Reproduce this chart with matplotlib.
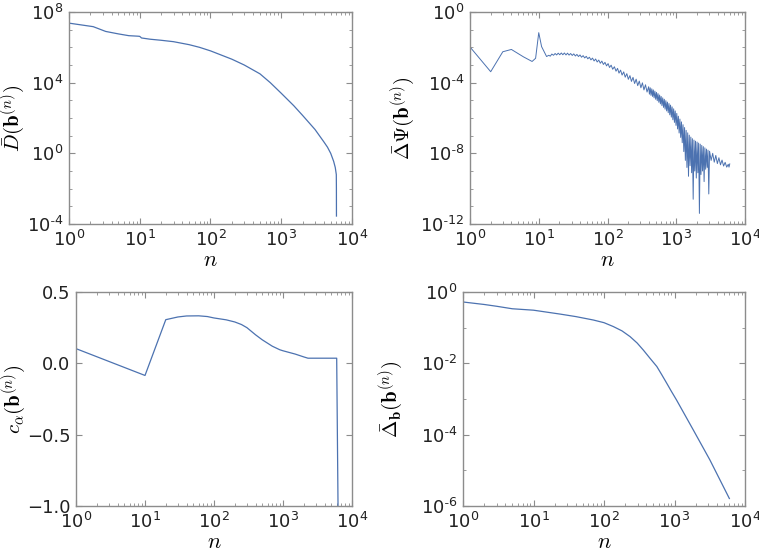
import numpy as np
import matplotlib
matplotlib.use("Agg")
import matplotlib.pyplot as plt
from matplotlib.ticker import LogLocator, FixedLocator, NullFormatter, FuncFormatter

plt.rcParams['font.family'] = ['DejaVu Sans']
plt.rcParams['mathtext.fontset'] = 'cm'

LINE = '#4c72b0'
SPINE = '#8c8c8c'

# ---------------- data ----------------
# top-left: D-bar(b^(n)), log10 values
d_n = [1, 2.2, 3.3, 5, 7, 9.5, 10, 10.6, 14, 20, 30, 50, 70, 100, 200, 300, 500, 700,
       1000, 1500, 2000, 3000, 4000, 4500, 5000, 5500, 5800, 6000, 6020, 6030]
d_log = [7.37, 7.17, 6.9, 6.76, 6.66, 6.63, 6.62, 6.53, 6.46, 6.40, 6.32, 6.15, 6.0, 5.8,
         5.33, 5.0, 4.5, 4.0, 3.4, 2.7, 2.15, 1.35, 0.65, 0.35, 0.0, -0.45, -0.8, -1.2,
         -2.0, -3.55]

# top-right: Delta-bar Psi(b^(n)), (n, log10 value) pairs
psi_pts = [
    (1, -1.98), (2, -3.38), (3, -2.25), (4, -2.12), (6, -2.54), (8, -2.8), (9, -2.62),
    (10, -1.17), (11, -1.96), (13, -2.52),
    (14, -2.45), (14.7, -2.50), (15.5, -2.38), (16.4, -2.45), (17.3, -2.35), (18.2, -2.43),
    (19.2, -2.33), (20.2, -2.42), (21.3, -2.32), (22.4, -2.42), (23.6, -2.32), (24.9, -2.43),
    (26.2, -2.33), (27.6, -2.44), (29.1, -2.35), (30.7, -2.46), (32.3, -2.37), (34.1, -2.49),
    (35.9, -2.40), (37.8, -2.52), (39.8, -2.43), (41.9, -2.56), (44.2, -2.47), (46.6, -2.60),
    (49.1, -2.51), (51.7, -2.65), (54.5, -2.56), (57.4, -2.71), (60.5, -2.61), (63.8, -2.77),
    (67.2, -2.66), (70.8, -2.83), (74.6, -2.72), (78.6, -2.90), (82.8, -2.78), (87.2, -2.97),
    (91.9, -2.85), (96.8, -3.05), (102, -2.92), (107, -3.14), (113, -3.01), (119, -3.24),
    (126, -3.10), (133, -3.35), (140, -3.19), (147, -3.46), (155, -3.29), (163, -3.57),
    (172, -3.39), (181, -3.69), (191, -3.49), (201, -3.81), (212, -3.60), (223, -3.93),
    (235, -3.70), (248, -4.05), (261, -3.80), (275, -4.17), (290, -3.91), (306, -4.29),
    (322, -4.01), (339, -4.41), (357, -4.12), (376, -4.53), (397, -4.23), (407, -4.65),
    (418, -4.29), (429, -4.72), (441, -4.35), (452, -4.78), (464, -4.41), (476, -4.86),
    (489, -4.48), (502, -4.94), (516, -4.55), (529, -5.02), (543, -4.62), (558, -5.11),
    (573, -4.70), (588, -5.20), (603, -4.78), (619, -5.30), (636, -4.86), (653, -5.40),
    (670, -4.94), (688, -5.50), (706, -5.02), (725, -5.60), (744, -5.10), (764, -5.70),
    (784, -5.18), (805, -5.82), (826, -5.27), (848, -5.95), (870, -5.37), (893, -6.10),
    (917, -5.48), (941, -6.25), (966, -5.60), (992, -6.42), (1018, -5.74), (1045, -6.62),
    (1073, -5.90), (1101, -6.85), (1130, -6.06), (1160, -7.1), (1191, -6.22), (1222, -7.4),
    (1255, -6.38), (1288, -7.9), (1322, -6.54), (1357, -8.4), (1393, -6.70), (1430, -8.8),
    (1468, -6.84), (1507, -9.3), (1547, -6.97), (1588, -8.7), (1630, -7.08), (1673, -9.1),
    (1717, -7.17), (1763, -10.6), (1809, -7.25), (1857, -9.0), (1906, -7.31), (1957, -9.4),
    (2009, -7.36), (2062, -9.1), (2116, -7.42), (2172, -11.4), (2230, -7.48), (2289, -9.2),
    (2350, -7.55), (2412, -9.0), (2476, -7.62), (2542, -9.6), (2609, -7.69), (2678, -8.9),
    (2749, -7.76), (2822, -8.8), (2896, -7.82), (2973, -10.3), (3052, -7.88), (3215, -8.40),
    (3388, -8.0), (3570, -8.50), (3761, -8.12), (3962, -8.58), (4174, -8.25), (4398, -8.65),
    (4634, -8.38), (4882, -8.72), (5143, -8.51), (5419, -8.78), (5709, -8.62), (5850, -8.78),
    (6000, -8.6)]
psi_n = [p[0] for p in psi_pts]
psi_log = [p[1] for p in psi_pts]

# bottom-left: c_alpha(b^(n))
c_n = [1, 10, 20, 30, 40, 60, 80, 100, 150, 200, 250, 300, 400, 500, 700, 900, 1000,
       1500, 2000, 2300, 3000, 6000, 6300]
c_val = [0.103, -0.085, 0.306, 0.325, 0.332, 0.333, 0.328, 0.318, 0.305, 0.29, 0.272,
         0.25, 0.2, 0.165, 0.12, 0.095, 0.088, 0.065, 0.045, 0.036, 0.036, 0.036, -1.1]

# bottom-right: Delta-bar_b(b^(n)), log10 values
b_n = [1, 2, 3, 5, 10, 24, 40, 70.5, 100, 136, 180, 234, 295, 362, 450, 562, 660, 777,
       900, 1070, 1850, 3180, 6000]
b_log = [-0.28, -0.35, -0.40, -0.47, -0.51, -0.62, -0.69, -0.785, -0.86, -0.97, -1.09,
         -1.25, -1.43, -1.63, -1.86, -2.09, -2.32, -2.56, -2.78, -3.03, -3.87, -4.71, -5.79]

ylabels = [r'$\bar{D}(\mathbf{b}^{(n)})$', r'$\bar{\Delta}\Psi(\mathbf{b}^{(n)})$',
           r'$c_\alpha(\mathbf{b}^{(n)})$', r'$\bar{\Delta}_\mathbf{b}(\mathbf{b}^{(n)})$']

# ---------------- figure ----------------
fig = plt.figure(figsize=(7.59, 5.49), dpi=100)
W, H = 759, 549
def rect(l, r, t, b):
    return [l / W, 1 - b / H, (r - l) / W, (b - t) / H]

boxes = [(69, 352, 12, 224), (470, 745, 12, 224), (76, 352, 292, 506), (463, 745, 292, 506)]
label_right = [27, 417, 28, 405]
axes = [fig.add_axes(rect(*b)) for b in boxes]
ax1, ax2, ax3, ax4 = axes

ax1.plot(d_n, 10.0 ** np.array(d_log), color=LINE, lw=0.9)
ax2.plot(psi_n, 10.0 ** np.array(psi_log), color=LINE, lw=0.7)
ax3.plot(c_n, c_val, color=LINE, lw=0.9)
ax4.plot(b_n, 10.0 ** np.array(b_log), color=LINE, lw=0.9)

def pow_fmt(v, pos):
    e = int(round(np.log10(v)))
    if e < 0:
        return r'$\mathdefault{10^{\text{-}%d}}$' % (-e)
    return r'$\mathdefault{10^{%d}}$' % e

def style(ax):
    ax.set_xscale('log')
    ax.set_xlim(1, 1e4)
    ax.xaxis.set_major_locator(FixedLocator([1, 10, 100, 1000, 10000]))
    ax.xaxis.set_minor_locator(LogLocator(base=10, subs=np.arange(2, 10), numticks=20))
    ax.xaxis.set_minor_formatter(NullFormatter())
    ax.xaxis.set_major_formatter(FuncFormatter(pow_fmt))
    for s in ax.spines.values():
        s.set_color(SPINE)
        s.set_linewidth(1.0)
    ax.tick_params(which='both', direction='in', top=True, right=True, color=SPINE,
                   labelsize=13, labelcolor='#222222')
    ax.tick_params(which='major', length=4, width=0.8, pad=4)
    ax.tick_params(which='minor', length=2, width=0.6)
    ax.set_xlabel(r'$n$', fontsize=16, labelpad=0)

for ax, lab, lr, b in zip(axes, ylabels, label_right, boxes):
    style(ax)
    ax.set_ylabel(lab, fontsize=15)
    ax.yaxis.set_label_coords((lr - b[0]) / (b[1] - b[0]), 0.5)

def logy(ax, lo, hi, step):
    ax.set_yscale('log')
    ax.set_ylim(10.0 ** lo, 10.0 ** hi)
    ax.yaxis.set_major_locator(FixedLocator([10.0 ** e for e in range(lo, hi + 1, step)]))
    ax.yaxis.set_minor_locator(FixedLocator([10.0 ** e for e in range(lo, hi + 1)
                                             if (e - lo) % step]))
    ax.yaxis.set_minor_formatter(NullFormatter())
    ax.yaxis.set_major_formatter(FuncFormatter(pow_fmt))

logy(ax1, -4, 8, 4)
logy(ax2, -12, 0, 4)
logy(ax4, -6, 0, 2)
ax3.set_ylim(-1.0, 0.5)
ax3.set_yticks([-1.0, -0.5, 0.0, 0.5])
ax3.set_yticklabels(['\u22121.0', '\u22120.5', '0.0', '0.5'])

fig.savefig('out.png', dpi=100)
